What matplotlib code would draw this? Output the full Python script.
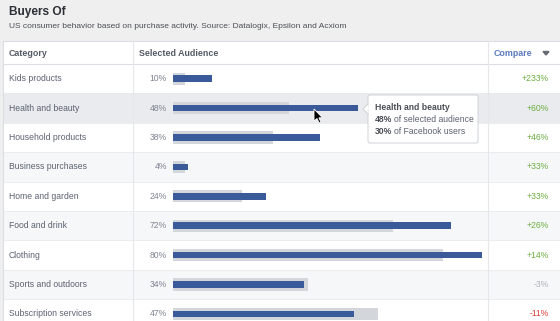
import matplotlib
matplotlib.use("Agg")
import matplotlib.pyplot as plt
from matplotlib.patches import Rectangle, Polygon, FancyBboxPatch

categories = ["Kids products", "Health and beauty", "Household products",
              "Business purchases", "Home and garden", "Food and drink",
              "Clothing", "Sports and outdoors", "Subscription services"]
selected = [10, 48, 38, 4, 24, 72, 80, 34, 47]
facebook = [3, 30, 26, 3, 18, 57, 70, 35, 53]
compare = ["+233%", "+60%", "+46%", "+33%", "+33%", "+26%", "+14%", "-3%", "-11%"]

W, H = 560, 321
plt.rcParams['font.family'] = ['Liberation Sans', 'DejaVu Sans']
fig = plt.figure(figsize=(W/100, H/100), dpi=100)
fig.patch.set_facecolor("#efefef")

row_top, row_h = 64, 29.4
n = len(categories)
bot = (H - (row_top + row_h*n)) / H
hgt = row_h*n / H

# overlay pixel axes for frame
ov = fig.add_axes([0, 0, 1, 1], zorder=0)
ov.set_xlim(0, W); ov.set_ylim(H, 0); ov.axis("off")
ov.add_patch(Rectangle((3, 41), W, H, facecolor="white", edgecolor="none"))

# background table axes (pixel x, row y)
bg = fig.add_axes([0, bot, 1, hgt], zorder=1)
bg.set_xlim(0, W); bg.set_ylim(n-0.5, -0.5); bg.axis("off"); bg.patch.set_alpha(0)
for i in range(n):
    if i == 1:
        bg.axhspan(i-0.5, i+0.5, xmin=3/W, color="#e9ebee", lw=0)
    elif i % 2 == 1:
        bg.axhspan(i-0.5, i+0.5, xmin=3/W, color="#f6f7f9", lw=0)
    bg.axhline(i+0.5, xmin=3/W, color="#e9eaed", lw=0.6)
for i, (c, s, cp) in enumerate(zip(categories, selected, compare)):
    bg.text(9, i, c, ha="left", va="center", fontsize=6.2, color="#5b6170")
    bg.text(167, i, f"{s}%", ha="right", va="center", fontsize=6.2, color="#7d8390")
    col = "#6cae3f" if cp.startswith("+") else ("#b0b3b8" if cp == "-3%" else "#d9403a")
    bg.text(549, i, cp, ha="right", va="center", fontsize=6.2, color=col)

# bar axes: percentage scale
ax = fig.add_axes([173/W, bot, 386/W, hgt], zorder=2)
ax.set_xlim(0, 100); ax.set_ylim(n-0.5, -0.5); ax.axis("off"); ax.patch.set_alpha(0)
ys = list(range(n))
ax.barh(ys, facebook, height=0.42, color="#d3d6db", lw=0)
ax.barh(ys, selected, height=0.22, color="#3b5a9a", lw=0)

# header & lines on top overlay
top = fig.add_axes([0, 0, 1, 1], zorder=3)
top.set_xlim(0, W); top.set_ylim(H, 0); top.axis("off"); top.patch.set_alpha(0)
top.plot([3, W], [41, 41], color="#dcdee3", lw=0.8)
top.plot([3, W], [64, 64], color="#dcdee3", lw=0.8)
top.plot([3, 3], [41, H], color="#dcdee3", lw=0.8)
top.plot([133, 133], [41, H], color="#e5e7ea", lw=0.8)
top.plot([488, 488], [41, H], color="#e5e7ea", lw=0.8)
top.text(9, 12, "Buyers Of", fontsize=8.6, fontweight="bold", color="#2b2f36", va="center")
top.text(9, 26, "US consumer behavior based on purchase activity. Source: Datalogix, Epsilon and Acxiom",
         fontsize=6.05, color="#4b4f56", va="center")
top.text(9, 53, "Category", fontsize=6.4, fontweight="bold", color="#555b66", va="center")
top.text(139, 53, "Selected Audience", fontsize=6.4, fontweight="bold", color="#555b66", va="center")
top.text(494, 53, "Compare", fontsize=6.4, fontweight="bold", color="#5b7bc0", va="center")
top.add_patch(Polygon([(543, 51.5), (549, 51.5), (546, 55)], closed=True, color="#666b75"))

# tooltip
top.add_patch(FancyBboxPatch((368, 95), 110, 48, boxstyle="round,pad=0,rounding_size=2",
                             facecolor="white", edgecolor="#cfd2d8", lw=0.7))
top.add_patch(Polygon([(368.4, 104), (363, 109), (368.4, 114)], closed=True,
                      facecolor="white", edgecolor="none"))
top.plot([368, 363, 368], [104, 109, 114], color="#cfd2d8", lw=0.7)
top.text(375, 110.5, categories[1], fontsize=6.2, fontweight="bold", color="#4b4f56",
         va="baseline")
t1 = top.text(375, 122.5, f"{selected[1]}%", fontsize=6.2, fontweight="bold", color="#4b4f56",
              va="baseline")
top.annotate("of selected audience", xy=(1, 0), xycoords=t1, xytext=(1.5, 0),
             textcoords="offset points", fontsize=6.2, color="#5b6170", va="bottom")
t2 = top.text(375, 134.5, f"{facebook[1]}%", fontsize=6.2, fontweight="bold", color="#4b4f56",
              va="baseline")
top.annotate("of Facebook users", xy=(1, 0), xycoords=t2, xytext=(1.5, 0),
             textcoords="offset points", fontsize=6.2, color="#5b6170", va="bottom")

# mouse cursor
cx, cy = 314, 109
shape = [(0, 0), (0, 12), (3, 9.5), (5.2, 14), (7, 13.2), (4.9, 8.8), (8.6, 8.8)]
top.add_patch(Polygon([(cx+x, cy+y) for x, y in shape], closed=True,
                      facecolor="black", edgecolor="white", lw=0.6))

fig.savefig("out.png", dpi=100, facecolor=fig.get_facecolor())
